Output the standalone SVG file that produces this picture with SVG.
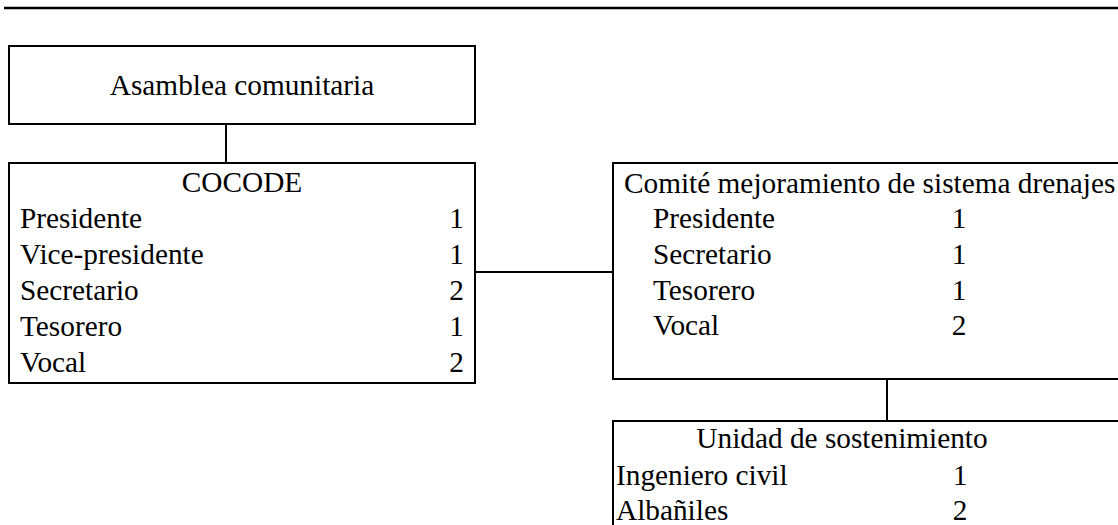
<svg xmlns="http://www.w3.org/2000/svg" width="1118" height="525" viewBox="0 0 1118 525">
<style>
.box{fill:#fff;stroke:#000;stroke-width:2}
.ln{stroke:#000;stroke-width:2;fill:none}
text{font-family:"Liberation Serif","Times New Roman",serif;font-size:29.3px;fill:#000}
.c{text-anchor:middle}
.r{text-anchor:end}
</style>
<rect width="1118" height="525" fill="#fff"/>
<line x1="4" y1="8" x2="1118" y2="8" stroke="#000" stroke-width="2.5"/>
<g id="connectors">
<line class="ln" x1="226" y1="124" x2="226" y2="163"/>
<line class="ln" x1="475" y1="272" x2="613" y2="272"/>
<line class="ln" x1="887" y1="379" x2="887" y2="421"/>
</g>
<g id="asamblea">
<rect class="box" x="9" y="46" width="466" height="78"/>
<text class="c" x="242" y="95">Asamblea comunitaria</text>
</g>
<g id="cocode">
<rect class="box" x="9" y="163" width="466" height="220"/>
<text class="c" x="242" y="192">COCODE</text>
<text x="20" y="228">Presidente</text><text class="r" x="464" y="228">1</text>
<text x="20" y="264">Vice-presidente</text><text class="r" x="464" y="264">1</text>
<text x="20" y="300">Secretario</text><text class="r" x="464" y="300">2</text>
<text x="20" y="336">Tesorero</text><text class="r" x="464" y="336">1</text>
<text x="20" y="372">Vocal</text><text class="r" x="464" y="372">2</text>
</g>
<g id="comite">
<rect class="box" x="613" y="163" width="520" height="216"/>
<text x="624" y="193">Comité mejoramiento de sistema drenajes</text>
<text x="653" y="228">Presidente</text><text class="c" x="959" y="228">1</text>
<text x="653" y="264">Secretario</text><text class="c" x="959" y="264">1</text>
<text x="653" y="300">Tesorero</text><text class="c" x="959" y="300">1</text>
<text x="653" y="335">Vocal</text><text class="c" x="959" y="335">2</text>
</g>
<g id="unidad">
<rect class="box" x="613" y="421" width="520" height="120"/>
<text class="c" x="842" y="448">Unidad de sostenimiento</text>
<text x="616" y="485">Ingeniero civil</text><text class="c" x="960" y="485">1</text>
<text x="616" y="520">Albañiles</text><text class="c" x="960" y="520">2</text>
</g>
</svg>
